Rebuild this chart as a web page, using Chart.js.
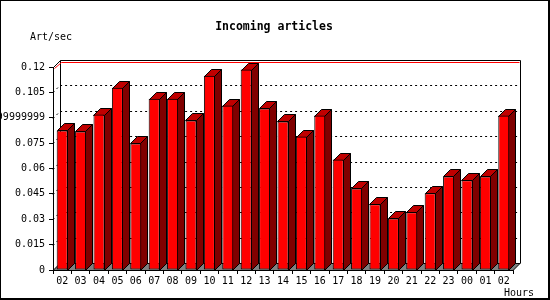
<!DOCTYPE html>
<html>
<head>
<meta charset="utf-8">
<script src="https://cdn.jsdelivr.net/npm/chart.js@4"></script>
<style>
    body { margin: 0; background: #fff; }
    canvas { display: block; }
</style>
</head>
<body>
<canvas id="chart" width="550" height="300"></canvas>
<script>
const hours = ['02', '03', '04', '05', '06', '07', '08', '09', '10', '11', '12', '13', '14',
    '15', '16', '17', '18', '19', '20', '21', '22', '23', '00', '01', '02'];
const artPerSec = [0.0825, 0.0819, 0.0919, 0.1078, 0.0748, 0.1013, 0.1013, 0.0884, 0.1149,
    0.0972, 0.1185, 0.0955, 0.0878, 0.0789, 0.0913, 0.0653, 0.0482, 0.0388, 0.0305,
    0.0341, 0.0453, 0.0553, 0.0530, 0.0553, 0.0913];
const yTicks = [0, 0.015, 0.03, 0.045, 0.06, 0.075, 0.09, 0.105, 0.12];
const yTickLabels = ['0', '0.015', '0.03', '0.045', '0.06', '0.075', '0.08999999999999999', '0.105', '0.12'];
const maxLine = 0.12;

const DEPTH = 7;
const FONT = 'DejaVu Sans Mono';

function poly(ctx, pts) {
    ctx.beginPath();
    ctx.moveTo(pts[0][0], pts[0][1]);
    for (let i = 1; i < pts.length; i++) ctx.lineTo(pts[i][0], pts[i][1]);
}

// draws the back wall, floor and the 3D faces of the bars
const threeD = {
    id: 'threeD',
    beforeDatasetsDraw(chart) {
        const ctx = chart.ctx;
        const { left, right, bottom } = chart.chartArea;
        const yScale = chart.scales.y;
        const D = DEPTH;
        ctx.save();
        ctx.lineWidth = 1;

        // floor
        poly(ctx, [[left, bottom + 0.5], [right, bottom + 0.5], [right + D, bottom - D + 0.5], [left + D, bottom - D + 0.5]]);
        ctx.closePath();
        ctx.fillStyle = '#808080';
        ctx.fill();
        ctx.strokeStyle = '#000';
        ctx.stroke();

        // dotted grid on the back wall
        ctx.setLineDash([2, 3]);
        yTicks.forEach(v => {
            if (v === 0 || v === maxLine) return;
            const py = Math.round(yScale.getPixelForValue(v)) + 0.5;
            poly(ctx, [[left, py], [left + D, py - D], [right + D, py - D]]);
            ctx.stroke();
        });
        ctx.setLineDash([]);

        // frame of the back wall
        const topY = Math.round(yScale.getPixelForValue(maxLine)) + 0.5;
        poly(ctx, [[left + 0.5, topY], [left + D + 0.5, topY - D], [right + D + 0.5, topY - D], [right + D + 0.5, bottom - D + 0.5]]);
        ctx.stroke();
        poly(ctx, [[left + D + 0.5, topY - D], [left + D + 0.5, bottom - D]]);
        ctx.stroke();

        // red max line
        ctx.strokeStyle = '#ff0000';
        poly(ctx, [[left + 1.5, topY + 1], [left + D + 1.5, topY - D + 2], [right + D - 0.5, topY - D + 2]]);
        ctx.stroke();

        // bar tops and sides
        ctx.strokeStyle = '#000';
        const meta = chart.getDatasetMeta(0);
        meta.data.forEach(bar => {
            const L = Math.round(bar.x - bar.width / 2) + 0.5;
            const R = Math.round(bar.x + bar.width / 2) - 0.5;
            const T = Math.round(bar.y) + 0.5;
            const B = Math.round(bar.base) + 0.5;
            poly(ctx, [[R, T], [R + D, T - D], [R + D, B - D], [R, B]]);
            ctx.closePath();
            ctx.fillStyle = '#800000';
            ctx.fill();
            ctx.stroke();
            poly(ctx, [[L, T], [L + D, T - D], [R + D, T - D], [R, T]]);
            ctx.closePath();
            ctx.fillStyle = '#c00000';
            ctx.fill();
            ctx.stroke();
        });
        ctx.restore();
    },
    afterDraw(chart) {
        const ctx = chart.ctx;
        ctx.save();
        ctx.fillStyle = '#000';
        ctx.textBaseline = 'middle';
        ctx.font = 'bold 11.5px "' + FONT + '"';
        ctx.textAlign = 'center';
        ctx.fillText('Incoming articles', 274, 27);
        ctx.font = '10px "' + FONT + '"';
        ctx.textAlign = 'left';
        ctx.fillText('Art/sec', 30, 37);
        ctx.fillText('Hours', 504, 293);

        // outer frame
        ctx.fillRect(0, 0, 550, 1);
        ctx.fillRect(0, 0, 1, 300);
        ctx.fillRect(548, 0, 2, 300);
        ctx.fillRect(0, 298, 550, 2);
        ctx.restore();
    }
};

new Chart(document.getElementById('chart'), {
    type: 'bar',
    data: {
        labels: hours,
        datasets: [{
            data: artPerSec,
            backgroundColor: '#ff0000',
            borderColor: '#000',
            borderWidth: 1,
            borderSkipped: false,
            categoryPercentage: 1,
            barPercentage: 0.6
        }]
    },
    options: {
        responsive: false,
        animation: false,
        layout: {
            padding: { top: 67, right: 37, left: 0, bottom: 0 }
        },
        plugins: {
            legend: { display: false },
            tooltip: { enabled: false }
        },
        scales: {
            x: {
                afterFit: s => { s.height = 30; },
                grid: { drawOnChartArea: false, color: '#000', tickLength: 4 },
                border: { color: '#000' },
                ticks: {
                    color: '#000',
                    font: { family: FONT, size: 10 },
                    autoSkip: false,
                    maxRotation: 0,
                    padding: 1
                }
            },
            y: {
                min: 0,
                max: 0.12,
                afterFit: s => { s.width = 53; },
                afterBuildTicks: s => { s.ticks = yTicks.map(v => ({ value: v })); },
                grid: { drawOnChartArea: false, color: '#000', tickLength: 4 },
                border: { color: '#000' },
                ticks: {
                    color: '#000',
                    font: { family: FONT, size: 10 },
                    padding: 4,
                    callback: (v, i) => yTickLabels[i]
                }
            }
        }
    },
    plugins: [threeD]
});
</script>
</body>
</html>
